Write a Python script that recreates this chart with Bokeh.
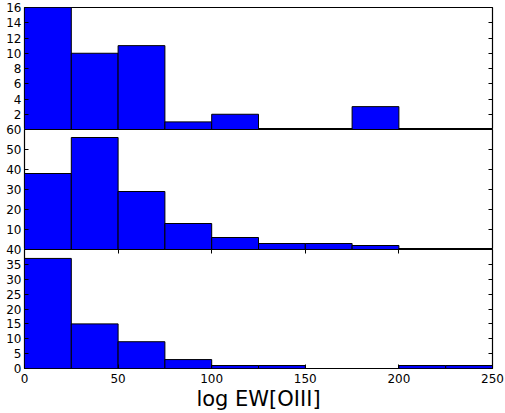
from bokeh.plotting import figure
from bokeh.layouts import column
from bokeh.models import Range1d, LinearAxis, FixedTicker
from bokeh.embed import file_html
from bokeh.resources import INLINE

# ---- data ----
bin_edges = [0, 25, 50, 75, 100, 125, 150, 175, 200, 225, 250]
counts_top = [16, 10, 11, 1, 2, 0, 0, 3, 0, 0]
counts_mid = [38, 56, 29, 13, 6, 3, 3, 2, 0, 0]
counts_bot = [37, 15, 9, 3, 1, 1, 0, 0, 1, 1]
yticks_top = [2, 4, 6, 8, 10, 12, 14, 16]
yticks_mid = [10, 20, 30, 40, 50, 60]
yticks_bot = [0, 5, 10, 15, 20, 25, 30, 35, 40]
xticks = [0, 50, 100, 150, 200, 250]
x_label = "log EW[OIII]"

FONT = "DejaVu Sans"
W = 505
xr = Range1d(0, 250)


def style_axis(ax):
    ax.major_tick_in = 4
    ax.major_tick_out = 0
    ax.minor_tick_line_color = None
    ax.axis_line_color = None
    ax.major_tick_line_color = "black"
    ax.major_label_text_font = FONT
    ax.major_label_text_color = "black"
    ax.major_label_text_font_size = "12px"


def blank_labels(ax, ticks):
    ax.major_label_overrides = {t: "" for t in ticks}
    ax.major_label_standoff = 0


def make_panel(counts, ymax, yticks, frame_h, top_border, bottom_border,
               show_x=False, overlap=0):
    p = figure(width=W, height=frame_h + top_border + bottom_border,
               x_range=xr, y_range=Range1d(0, ymax),
               output_backend="svg", toolbar_location=None,
               x_axis_location=None, y_axis_location=None,
               min_border_left=24, min_border_right=13,
               min_border_top=top_border, min_border_bottom=bottom_border,
               border_fill_color=None, background_fill_color="white")
    p.grid.visible = False
    p.outline_line_color = "black"
    p.outline_line_width = 1.2
    idx = [i for i, c in enumerate(counts) if c > 0]
    p.quad(left=[bin_edges[i] for i in idx],
           right=[bin_edges[i + 1] for i in idx],
           top=[counts[i] for i in idx], bottom=0,
           fill_color="#0000ff", line_color="black", line_width=1)

    yl = LinearAxis(ticker=FixedTicker(ticks=yticks))
    yr = LinearAxis(ticker=FixedTicker(ticks=yticks))
    style_axis(yl)
    style_axis(yr)
    yl.major_label_standoff = 3
    blank_labels(yr, yticks)
    p.add_layout(yl, "left")
    p.add_layout(yr, "right")

    if show_x:
        xb = LinearAxis(ticker=FixedTicker(ticks=xticks), axis_label=x_label)
        xt = LinearAxis(ticker=FixedTicker(ticks=xticks))
        style_axis(xb)
        style_axis(xt)
        xb.major_label_standoff = 5
        xb.axis_label_text_font = FONT
        xb.axis_label_text_font_size = "21px"
        xb.axis_label_text_font_style = "normal"
        xb.axis_label_text_color = "black"
        xb.axis_label_standoff = 1
        blank_labels(xt, xticks)
        p.add_layout(xb, "below")
        p.add_layout(xt, "above")
    if overlap:
        p.styles = {"margin-top": f"-{overlap}px"}
    return p


p1 = make_panel(counts_top, 16, yticks_top, 122, 7, 0)
p2 = make_panel(counts_mid, 60, yticks_mid, 120, 8, 0, overlap=8)
p3 = make_panel(counts_bot, 40, yticks_bot, 121, 8, 43, show_x=True, overlap=8)

layout = column(p1, p2, p3, spacing=0)
open("out.html", "w").write(file_html(layout, INLINE))
